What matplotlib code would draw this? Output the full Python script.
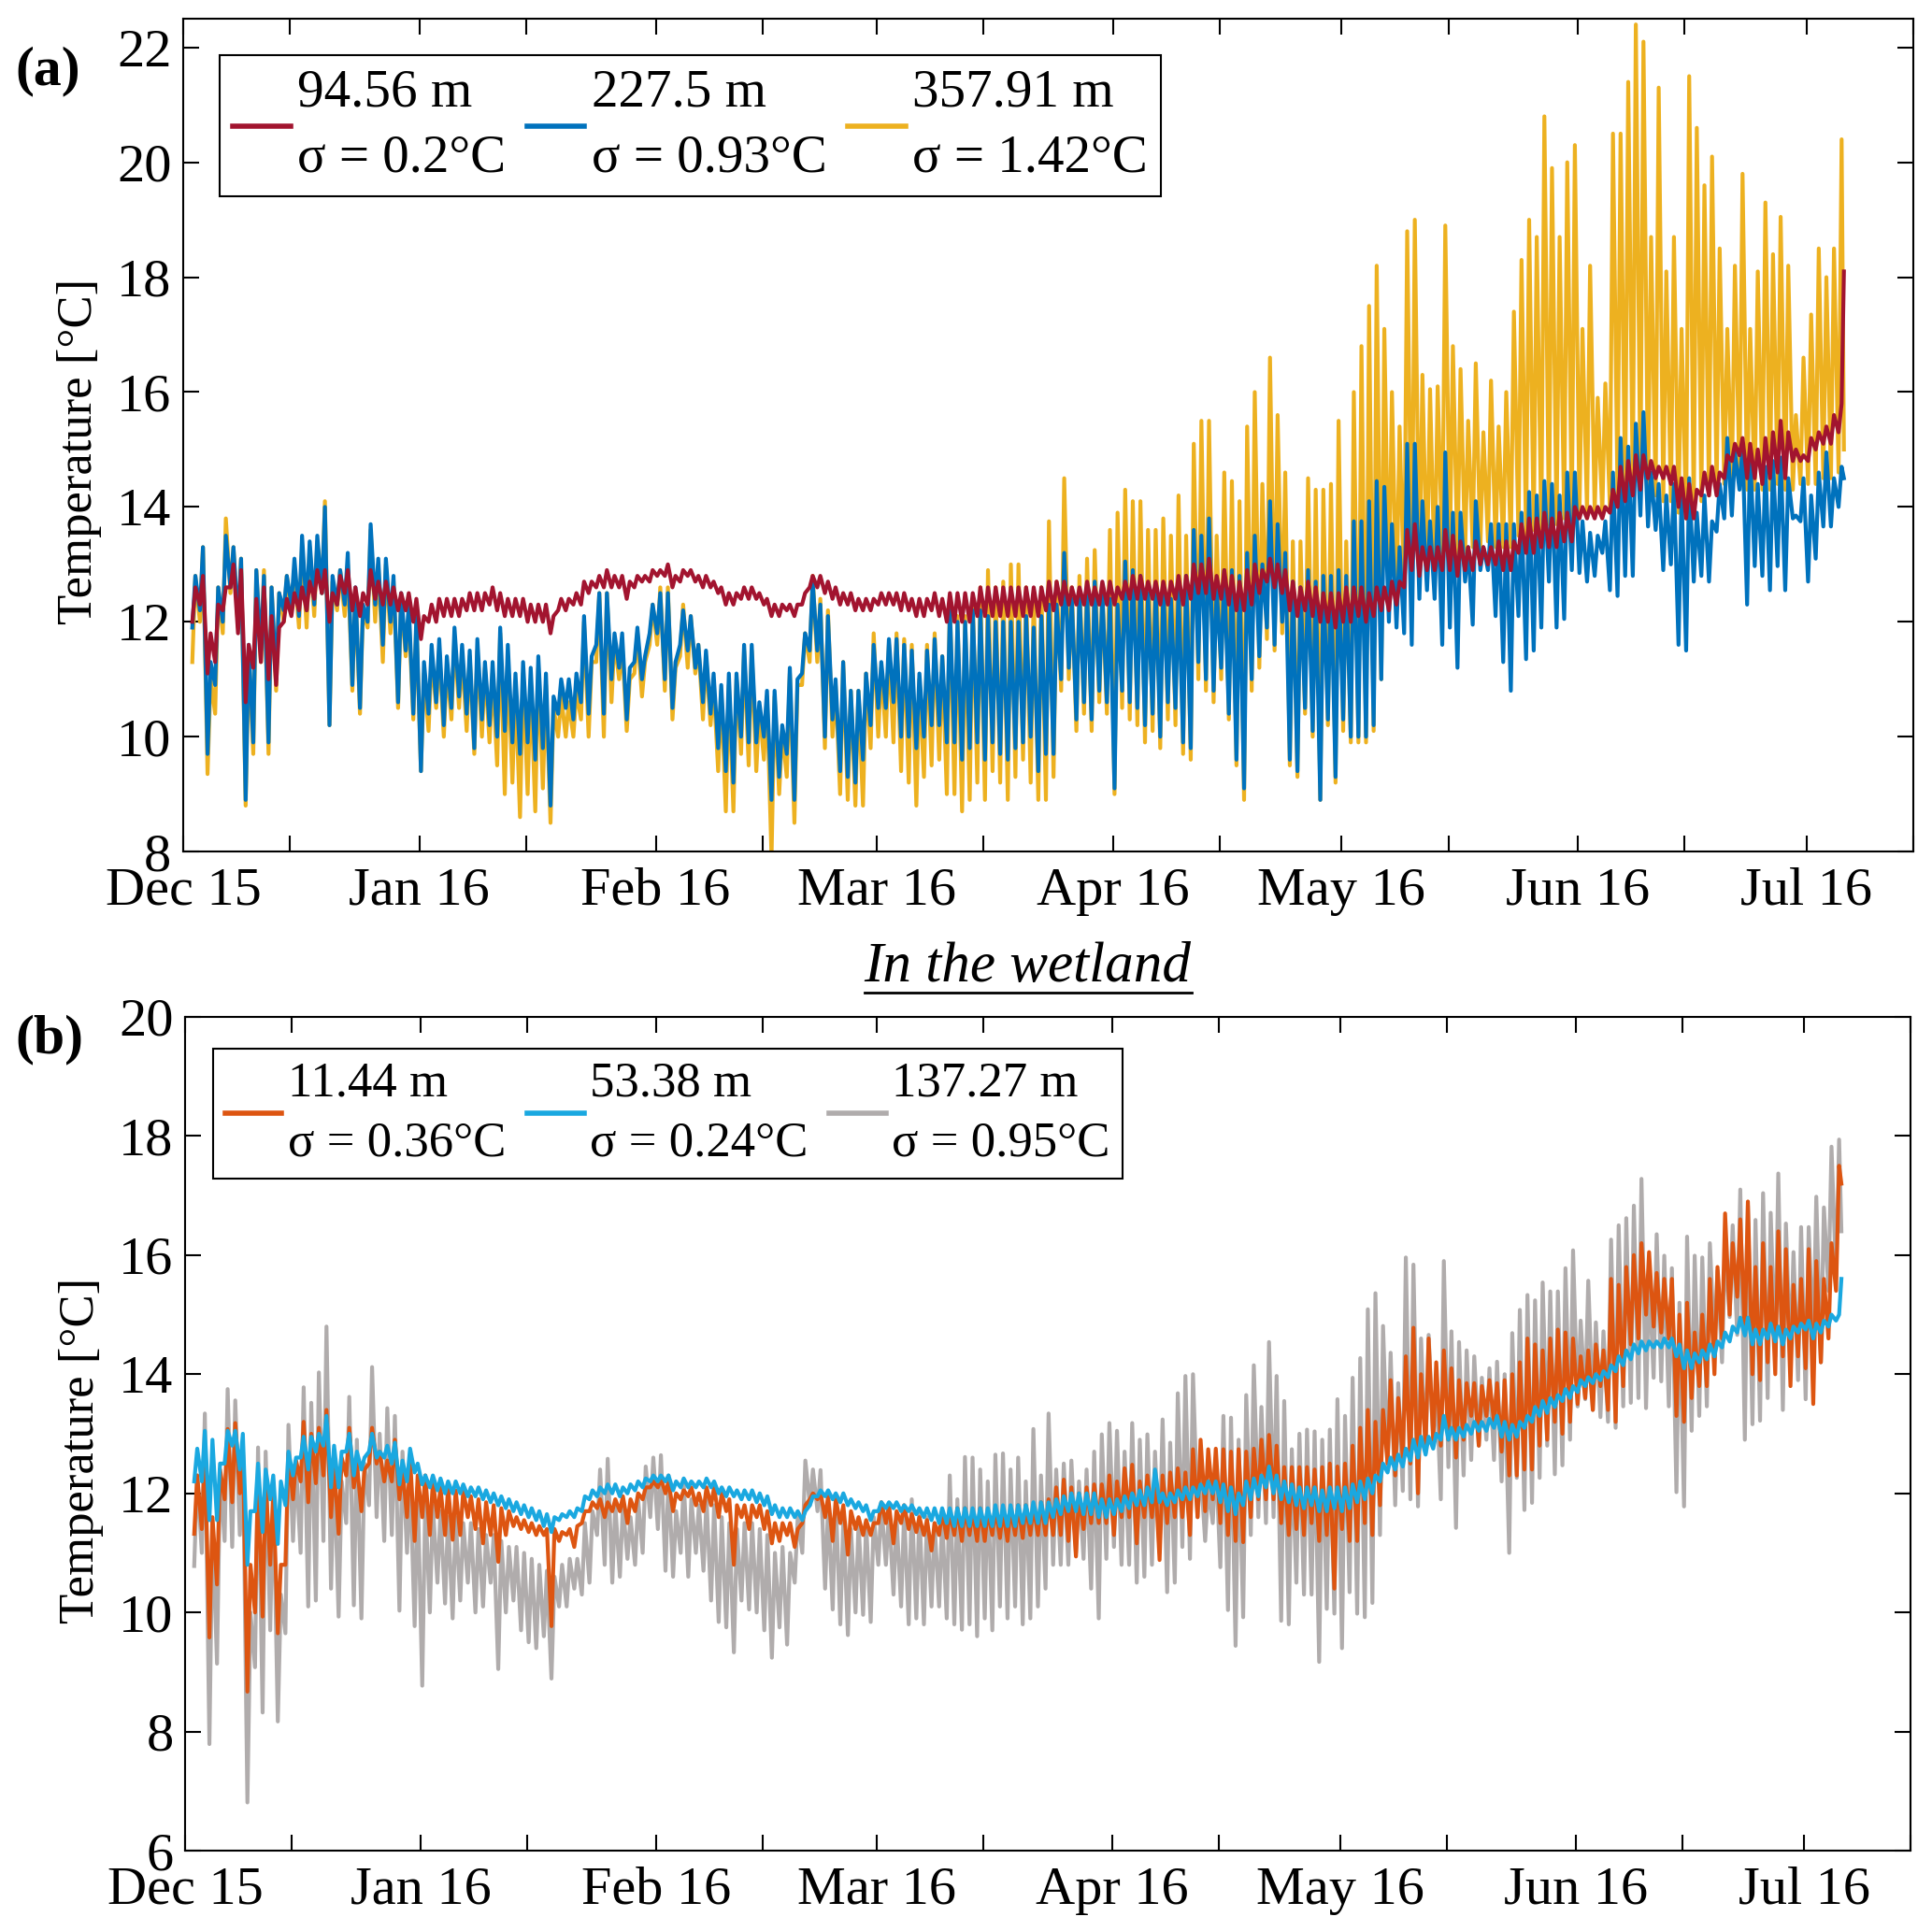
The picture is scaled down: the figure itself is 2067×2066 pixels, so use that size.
import datetime as dt
import numpy as np
import matplotlib
matplotlib.use("Agg")
import matplotlib.pyplot as plt
import matplotlib.dates as mdates
from matplotlib.ticker import FuncFormatter
from matplotlib.lines import Line2D

plt.rcParams['font.family'] = ['Liberation Serif', 'DejaVu Serif']

# ---------------- data: daily low / high, Dec 2 2015 .. Jul 5 2016 ----------------
# Panel (a) -- 94.56 m (red)
r94_lo = [12.0, 12.3, 11.1, 11.3, 12.2, 12.6, 11.8, 10.6, 11.2, 11.3, 11.0, 10.9, 12.0, 12.1, 12.2, 12.2, 12.4, 12.5, 12.0, 12.3, 12.5, 12.2, 12.1, 12.3, 12.4, 12.3, 12.3, 12.2, 12.2, 12.0,
          11.7, 12.0, 12.0, 12.1, 12.1, 12.1, 12.2, 12.2, 12.2, 12.3, 12.2, 12.1, 12.1, 12.1, 12.0, 12.0, 12.0, 11.8, 12.2, 12.2, 12.3, 12.3, 12.5, 12.6, 12.6, 12.6, 12.6, 12.4, 12.6, 12.7, 12.7,
          12.8, 12.8, 12.6, 12.7, 12.8, 12.7, 12.6, 12.6, 12.5, 12.3, 12.3, 12.4, 12.4, 12.4, 12.3, 12.1, 12.1, 12.2, 12.1, 12.3, 12.6, 12.6, 12.5, 12.4, 12.3, 12.3, 12.2, 12.2, 12.2,
          12.3, 12.3, 12.3, 12.2, 12.2, 12.1, 12.1, 12.2, 12.1, 12.0, 12.0, 12.0, 12.0, 12.1, 12.1, 12.1, 12.1, 12.1, 12.1, 12.1, 12.1, 12.1, 12.2, 12.2, 12.3, 12.3, 12.3, 12.3, 12.3, 12.3, 12.3,
          12.3, 12.4, 12.4, 12.4, 12.4, 12.4, 12.3, 12.3, 12.4, 12.3, 12.4, 12.5, 12.5, 12.4, 12.4, 12.3, 12.2, 12.2, 12.3, 12.5, 12.7, 12.6, 12.5, 12.2, 12.1, 12.2, 12.1, 12.0, 12.0, 11.9,
          12.0, 12.0, 12.1, 12.0, 12.1, 12.2, 12.2, 12.3, 12.6, 12.9, 12.8, 12.9, 12.9, 12.9, 12.9, 12.8, 12.9, 12.9, 13.0, 13.0, 13.0, 12.9, 12.9, 13.2, 13.2, 13.2, 13.3, 13.3, 13.3, 13.4, 13.4,
          13.8, 13.8, 13.8, 13.8, 13.9, 14.0, 14.1, 14.2, 14.3, 14.5, 14.5, 14.5, 14.4, 14.0, 13.8, 13.8, 14.2, 14.2, 14.2, 14.5, 14.8, 14.9, 14.5, 14.5, 14.4, 14.5, 14.6, 14.5, 14.8, 14.8,
          14.8, 15.0, 15.1, 15.1, 15.3]
r94_hi = [12.6, 12.8, 11.8, 12.3, 12.6, 13.0, 12.9, 11.6, 12.4, 12.6, 12.1, 11.9, 12.4, 12.5, 12.6, 12.7, 12.9, 12.9, 12.5, 12.8, 12.9, 12.6, 12.5, 12.9, 12.7, 12.7, 12.6, 12.5, 12.5, 12.4,
          12.1, 12.3, 12.4, 12.4, 12.4, 12.4, 12.5, 12.5, 12.5, 12.6, 12.5, 12.4, 12.4, 12.4, 12.3, 12.3, 12.3, 12.1, 12.4, 12.4, 12.5, 12.7, 12.7, 12.8, 12.9, 12.8, 12.8, 12.7, 12.8, 12.8, 12.9,
          12.9, 13.0, 12.8, 12.9, 12.9, 12.8, 12.8, 12.7, 12.6, 12.5, 12.5, 12.6, 12.6, 12.5, 12.4, 12.3, 12.3, 12.3, 12.3, 12.5, 12.8, 12.8, 12.7, 12.6, 12.5, 12.5, 12.4, 12.4, 12.4,
          12.5, 12.5, 12.5, 12.5, 12.4, 12.4, 12.4, 12.5, 12.4, 12.5, 12.5, 12.5, 12.5, 12.6, 12.6, 12.6, 12.6, 12.6, 12.6, 12.6, 12.6, 12.6, 12.7, 12.7, 12.7, 12.6, 12.6, 12.7, 12.6, 12.7, 12.7,
          12.6, 12.7, 12.8, 12.8, 12.7, 12.7, 12.7, 12.7, 12.8, 12.8, 13.0, 13.0, 13.1, 12.8, 12.9, 12.8, 12.7, 12.9, 13.0, 12.9, 13.1, 13.0, 12.9, 12.7, 12.6, 12.7, 12.6, 12.5, 12.5, 12.5,
          12.6, 12.6, 12.6, 12.5, 12.6, 12.6, 12.7, 12.7, 13.6, 13.7, 13.3, 13.3, 13.3, 13.6, 13.5, 13.4, 13.3, 13.4, 13.3, 13.3, 13.4, 13.4, 13.4, 13.7, 13.8, 13.8, 13.9, 13.8, 13.9, 13.9, 14.0,
          14.0, 14.0, 14.0, 14.0, 14.3, 14.7, 14.8, 14.9, 14.9, 14.8, 14.7, 14.7, 14.7, 14.5, 14.4, 14.3, 14.6, 14.7, 14.6, 14.9, 15.1, 15.2, 15.1, 15.0, 15.2, 15.3, 15.5, 15.3, 15.0, 14.9,
          15.2, 15.3, 15.4, 15.6, 15.8]
# Panel (a) -- 227.5 m (blue)
b227_lo = [11.9, 12.2, 9.7, 10.9, 12.0, 12.6, 12.0, 8.9, 9.9, 11.5, 9.9, 11.0, 12.2, 12.3, 12.1, 12.2, 12.3, 12.5, 10.2, 12.3, 12.3, 10.9, 10.5, 12.0, 12.3, 11.6, 12.0, 10.6, 11.5, 10.4,
           9.4, 10.4, 10.6, 10.2, 10.5, 10.7, 10.4, 9.8, 10.3, 10.2, 10.0, 10.1, 9.9, 9.7, 9.9, 9.6, 9.8, 8.8, 10.4, 10.5, 10.3, 10.6, 10.4, 11.6, 10.4, 11.0, 11.2, 10.3, 11.3, 11.0, 11.8,
           11.8, 11.0, 10.5, 11.6, 11.5, 11.2, 10.6, 10.4, 9.8, 9.4, 9.2, 10.0, 9.9, 9.9, 10.0, 8.9, 9.3, 9.7, 8.9, 11.1, 11.5, 11.5, 10.0, 10.3, 9.4, 9.3, 9.2, 9.6, 10.2,
           10.5, 10.5, 10.6, 10.0, 10.0, 9.8, 10.0, 10.2, 10.2, 9.9, 9.9, 9.6, 9.8, 9.9, 9.6, 9.9, 9.7, 9.6, 9.8, 9.9, 10.0, 9.4, 9.7, 9.7, 11.0, 11.2, 10.3, 10.6, 10.3, 10.8, 10.6,
           9.1, 10.8, 10.6, 10.5, 10.2, 10.4, 10.0, 10.6, 10.5, 9.9, 9.8, 11.3, 11.0, 10.8, 11.2, 10.4, 9.6, 9.1, 11.0, 11.4, 11.9, 11.6, 12.0, 9.6, 9.4, 10.5, 10.1, 8.9, 10.3, 9.3,
           10.3, 10.0, 10.0, 10.0, 10.2, 11.0, 12.0, 11.9, 11.8, 11.6, 12.4, 12.55, 12.4, 11.6, 11.9, 11.2, 12.7, 11.95, 12.9, 12.9, 12.1, 11.3, 10.8, 12.1, 11.35, 11.5, 11.9, 12.7, 11.9, 12.05, 12.9,
           12.85, 12.7, 12.8, 13.2, 12.55, 12.45, 12.8, 12.8, 13.85, 13.66, 13.6, 12.9, 13.0, 11.6, 11.5, 12.7, 12.8, 12.7, 13.57, 13.8, 13.85, 14.3, 12.3, 12.97, 12.8, 12.55, 12.97, 12.55, 13.8, 13.75,
           12.7, 13.1, 13.66, 13.66, 14.0]
b227_hi = [12.8, 13.3, 11.3, 12.6, 13.5, 13.3, 13.1, 11.6, 12.9, 12.8, 12.6, 12.5, 12.8, 13.1, 13.5, 13.4, 13.5, 14.0, 12.8, 12.9, 13.2, 12.6, 12.3, 13.7, 13.1, 13.1, 12.8, 12.5, 12.3, 12.1,
           11.3, 11.6, 11.7, 11.4, 11.9, 11.6, 11.5, 11.7, 11.3, 11.3, 11.9, 11.6, 11.1, 11.3, 11.2, 11.4, 11.1, 10.7, 11.0, 11.0, 11.1, 12.1, 11.4, 12.5, 12.5, 11.8, 11.8, 11.2, 11.9, 11.4, 12.3,
           12.5, 12.5, 11.3, 12.2, 12.1, 11.6, 11.5, 11.1, 10.9, 11.1, 11.1, 11.6, 11.6, 10.6, 10.8, 10.8, 10.2, 11.2, 11.0, 11.8, 12.7, 12.3, 12.1, 11.0, 11.3, 10.8, 10.8, 11.1, 11.6,
           11.3, 11.7, 11.7, 11.6, 11.5, 11.1, 11.5, 11.7, 11.4, 12.2, 12.0, 12.0, 12.2, 12.2, 12.1, 12.0, 12.0, 12.0, 12.0, 12.1, 11.9, 12.1, 12.3, 12.3, 13.2, 12.4, 12.5, 12.5, 12.7, 12.5, 12.4,
           12.3, 13.05, 12.9, 12.8, 12.5, 12.6, 12.6, 12.4, 12.6, 12.8, 13.6, 13.5, 13.8, 12.6, 12.9, 12.9, 12.8, 13.2, 13.5, 13.0, 14.1, 13.7, 13.2, 12.7, 12.6, 12.9, 12.7, 12.8, 12.8, 12.9,
           12.8, 13.75, 13.75, 14.1, 14.45, 14.35, 13.7, 13.3, 15.1, 15.1, 14.1, 13.75, 14.0, 14.95, 13.9, 13.9, 13.3, 14.1, 13.3, 13.7, 13.7, 13.7, 13.7, 13.9, 14.26, 14.2, 14.45, 14.4, 14.2, 14.6, 14.6,
           13.75, 13.55, 13.5, 13.75, 14.6, 15.2, 15.05, 15.45, 15.65, 14.6, 14.4, 14.2, 14.4, 14.2, 14.5, 13.9, 14.2, 13.75, 14.4, 15.2, 14.95, 15.05, 14.95, 14.4, 14.7, 14.8, 14.86, 14.5, 13.85, 14.5,
           14.2, 14.6, 14.95, 14.5, 14.7]
# Panel (a) -- 357.91 m (yellow)
y357_lo = [11.3, 12.0, 9.35, 10.4, 11.8, 12.5, 11.9, 8.8, 9.7, 11.3, 9.7, 10.8, 12.0, 12.2, 11.9, 11.9, 12.1, 12.5, 10.2, 12.2, 12.1, 10.8, 10.4, 11.9, 12.0, 11.3, 11.8, 10.5, 11.4, 10.3,
           9.4, 10.1, 10.5, 10.0, 10.3, 10.5, 10.1, 9.7, 10.0, 9.9, 9.5, 9.0, 9.2, 8.6, 9.0, 8.7, 9.1, 8.5, 10.0, 10.0, 10.0, 10.3, 10.0, 11.3, 10.0, 10.6, 11.0, 10.1, 11.1, 10.7, 11.6,
           11.6, 10.8, 10.3, 11.4, 11.2, 11.1, 10.3, 10.2, 9.4, 8.7, 8.7, 9.7, 9.5, 9.4, 9.6, 7.9, 9.0, 9.3, 8.5, 10.9, 11.3, 11.3, 9.8, 10.0, 9.0, 8.9, 8.8, 8.8, 9.8,
           10.0, 10.0, 9.9, 9.4, 9.2, 8.8, 9.3, 9.5, 9.6, 9.0, 9.0, 8.7, 8.9, 9.2, 8.9, 9.4, 9.2, 8.9, 9.3, 9.6, 9.2, 8.9, 8.9, 9.3, 10.8, 11.0, 10.1, 10.4, 10.1, 10.6, 10.4,
           9.0, 10.5, 10.3, 10.2, 9.9, 10.1, 9.8, 10.3, 10.2, 9.7, 9.6, 11.0, 10.8, 10.6, 11.0, 10.3, 9.5, 8.9, 10.8, 11.2, 11.7, 11.5, 11.8, 9.5, 9.3, 10.4, 10.0, 8.9, 10.2, 9.2,
           10.1, 9.9, 9.9, 9.9, 10.1, 11.0, 12.3, 12.3, 12.5, 12.6, 12.7, 12.8, 12.8, 13.2, 13.2, 13.1, 13.2, 13.3, 13.3, 13.4, 13.3, 13.3, 13.3, 13.5, 13.5, 13.6, 13.6, 13.7, 13.7, 13.8, 13.8,
           13.9, 13.9, 13.9, 13.9, 14.0, 14.2, 14.2, 14.3, 14.3, 14.2, 14.2, 14.1, 14.1, 13.9, 13.8, 13.9, 14.1, 14.2, 14.3, 14.4, 14.4, 14.5, 14.3, 14.3, 14.3, 14.3, 14.4, 14.3, 14.3, 14.4,
           14.4, 14.4, 14.5, 14.5, 14.6]
y357_hi = [12.8, 13.3, 11.0, 12.6, 13.8, 13.3, 13.1, 11.5, 12.9, 12.9, 12.6, 12.5, 12.8, 12.9, 13.3, 13.3, 13.4, 14.1, 12.7, 12.9, 13.0, 12.5, 12.2, 13.6, 13.0, 13.0, 12.7, 12.4, 12.1, 12.0,
           11.1, 11.4, 11.5, 11.2, 11.7, 11.4, 11.4, 11.5, 11.2, 11.1, 11.8, 11.4, 10.9, 11.1, 11.0, 11.2, 10.9, 10.5, 10.7, 10.6, 10.8, 12.0, 11.3, 12.5, 12.5, 11.7, 11.6, 11.0, 11.8, 11.3, 12.3,
           12.6, 12.6, 11.2, 12.3, 12.1, 11.6, 11.4, 10.9, 10.8, 10.9, 11.0, 11.5, 11.5, 10.5, 10.7, 10.7, 10.1, 11.1, 10.9, 11.8, 12.8, 12.4, 12.2, 10.9, 11.3, 10.8, 10.8, 11.1, 11.8,
           11.2, 11.6, 11.8, 11.7, 11.6, 11.0, 11.6, 11.8, 11.4, 12.4, 12.1, 12.1, 12.4, 12.6, 12.9, 12.6, 12.7, 13.0, 13.0, 12.6, 12.5, 12.6, 13.75, 12.7, 14.5, 12.6, 12.8, 13.1, 13.25, 12.6, 13.6,
           13.9, 14.3, 14.1, 14.1, 13.6, 13.6, 13.8, 13.5, 14.2, 13.5, 15.1, 15.5, 15.5, 13.5, 14.6, 14.45, 14.1, 15.4, 16.0, 14.4, 16.6, 15.6, 14.6, 13.4, 13.4, 14.5, 14.3, 14.3, 14.4, 15.5,
           13.4, 16.0, 16.8, 17.5, 18.2, 17.1, 16.0, 15.4, 18.8, 19.0, 16.3, 16.05, 16.1, 18.9, 16.8, 16.4, 15.5, 16.5, 15.3, 16.2, 15.4, 16.0, 17.4, 18.3, 19.0, 18.7, 20.8, 19.9, 18.7, 20.0, 20.3,
           17.1, 18.2, 15.9, 16.15, 20.5, 20.5, 21.4, 22.4, 22.1, 18.7, 21.3, 18.1, 18.7, 17.1, 21.5, 20.6, 19.6, 20.1, 18.5, 17.1, 18.2, 19.8, 17.1, 18.1, 19.3, 18.4, 19.05, 18.2, 15.6, 16.6,
           17.35, 18.5, 18.0, 18.5, 20.4]
# last reading of each series (Jul 5)
end_a = {'r94': 18.1, 'b227': 14.5, 'y357': 15.0}

# Panel (b) -- 11.44 m (orange)
o11_lo = [11.32, 11.4, 9.58, 10.47, 11.9, 11.85, 12.0, 8.67, 10.0, 9.93, 10.8, 9.65, 10.8, 11.9, 12.2, 11.85, 12.17, 12.3, 11.6, 11.32, 12.3, 12.1, 11.7, 12.5, 12.5, 12.2, 12.2, 11.9, 11.6, 11.2,
          11.6, 11.3, 11.6, 11.3, 11.22, 11.3, 11.6, 11.4, 11.16, 11.3, 10.85, 11.3, 11.45, 11.4, 11.35, 11.3, 11.3, 9.77, 11.2, 11.3, 11.1, 11.5, 11.7, 11.75, 11.6, 11.7, 11.7, 11.5, 11.7, 11.9, 12.1,
          12.1, 12.0, 11.7, 11.9, 11.95, 11.8, 11.7, 11.8, 11.6, 11.7, 10.8, 11.6, 11.4, 11.6, 11.4, 11.16, 11.2, 11.3, 11.1, 11.5, 11.9, 11.9, 11.6, 11.2, 11.5, 10.97, 11.4, 11.3, 11.3,
          11.5, 11.5, 11.16, 11.5, 11.4, 11.35, 11.3, 11.04, 11.3, 11.25, 11.3, 11.2, 11.3, 11.2, 11.2, 11.3, 11.25, 11.2, 11.3, 11.25, 11.3, 11.3, 11.3, 11.3, 11.3, 11.2, 10.94, 11.4, 11.5, 11.5, 11.5,
          11.3, 11.6, 11.6, 11.16, 11.6, 11.6, 10.88, 11.5, 11.6, 11.6, 11.3, 11.6, 11.7, 11.9, 11.5, 11.3, 11.2, 11.18, 11.6, 11.9, 11.9, 11.9, 11.5, 11.3, 11.4, 11.3, 11.5, 11.2, 11.3, 10.4,
          11.4, 11.2, 11.2, 11.5, 11.3, 11.8, 12.5, 12.3, 12.6, 12.5, 12.0, 12.8, 12.9, 12.8, 12.9, 12.6, 12.9, 13.3, 12.8, 13.3, 13.2, 12.7, 12.3, 12.3, 12.4, 12.4, 12.8, 12.9, 13.2, 13.0, 13.2,
          13.5, 13.6, 13.4, 13.8, 13.4, 13.2, 13.8, 14.5, 14.6, 15.0, 14.8, 14.7, 14.6, 13.3, 13.2, 13.6, 13.8, 13.8, 14.0, 14.6, 15.0, 15.3, 14.7, 14.0, 13.9, 14.2, 14.0, 14.3, 13.8, 14.3,
          14.1, 13.5, 14.2, 14.6, 15.4]
o11_hi = [12.3, 12.67, 11.6, 12.4, 13.08, 13.18, 12.8, 10.8, 12.3, 12.2, 12.0, 10.8, 12.67, 12.55, 13.2, 13.0, 13.1, 13.4, 12.5, 12.6, 13.1, 12.5, 12.4, 13.1, 12.7, 12.55, 12.9, 12.4, 12.6, 12.3,
          12.3, 12.2, 12.1, 12.1, 12.05, 12.05, 11.95, 11.9, 11.85, 11.8, 11.75, 11.7, 11.6, 11.55, 11.5, 11.45, 11.4, 11.4, 11.35, 11.4, 11.45, 11.7, 11.85, 11.9, 11.85, 11.9, 11.95, 11.9, 12.0, 12.1, 12.2,
          12.25, 12.2, 12.0, 12.05, 12.1, 12.0, 12.1, 12.1, 12.0, 11.9, 11.8, 11.8, 11.8, 11.8, 11.7, 11.5, 11.5, 11.5, 11.4, 11.8, 12.0, 12.0, 11.95, 11.9, 11.8, 11.7, 11.6, 11.55, 11.5,
          11.85, 11.8, 11.7, 11.8, 11.65, 11.6, 11.55, 11.5, 11.7, 11.7, 11.75, 11.75, 11.7, 11.75, 11.7, 11.75, 11.7, 11.75, 11.8, 11.8, 11.8, 11.85, 11.9, 12.1, 12.23, 12.1, 12.0, 12.1, 12.15, 12.15, 12.3,
          12.2, 12.42, 12.48, 12.2, 12.3, 12.35, 12.3, 12.35, 12.42, 12.35, 12.74, 12.9, 12.74, 12.75, 12.74, 12.7, 12.74, 12.7, 12.75, 12.9, 12.98, 12.8, 12.44, 12.44, 12.44, 12.44, 12.4, 12.44, 12.5, 12.45,
          12.5, 12.8, 13.1, 13.4, 13.2, 13.4, 13.9, 13.6, 14.3, 14.78, 14.0, 14.6, 14.2, 14.4, 14.1, 13.9, 13.85, 13.85, 13.8, 13.9, 13.85, 13.9, 14.0, 14.2, 14.6, 14.5, 14.4, 14.6, 14.75, 14.7, 14.6,
          14.3, 14.4, 14.5, 14.4, 15.6, 15.5, 15.8, 16.0, 16.2, 16.05, 15.7, 15.6, 15.6, 15.0, 15.2, 14.7, 15.0, 15.6, 15.8, 16.7, 16.2, 16.6, 16.9, 15.8, 16.2, 15.8, 16.4, 16.1, 15.5, 15.6,
          16.1, 15.9, 15.6, 16.2, 17.5]
# Panel (b) -- 53.38 m (light blue)
c53_lo = [12.2, 12.2, 11.55, 11.55, 12.5, 12.8, 12.4, 10.8, 11.7, 11.35, 11.9, 11.15, 11.8, 12.3, 12.6, 12.4, 12.7, 12.8, 12.1, 12.1, 12.7, 12.3, 12.4, 12.7, 12.6, 12.6, 12.5, 12.15, 12.2, 12.35,
          12.15, 12.1, 12.05, 12.0, 12.0, 12.0, 11.95, 11.95, 11.9, 11.85, 11.8, 11.75, 11.7, 11.65, 11.6, 11.55, 11.45, 11.35, 11.55, 11.6, 11.6, 11.7, 11.9, 11.95, 12.0, 12.0, 11.95, 12.0, 12.05, 12.1, 12.2,
          12.2, 12.2, 12.05, 12.1, 12.1, 12.1, 12.1, 12.1, 12.0, 11.95, 11.95, 11.9, 11.9, 11.85, 11.8, 11.65, 11.6, 11.6, 11.6, 11.55, 11.8, 11.95, 11.95, 11.9, 11.85, 11.8, 11.75, 11.7, 11.55,
          11.7, 11.75, 11.75, 11.7, 11.7, 11.65, 11.6, 11.55, 11.5, 11.5, 11.45, 11.45, 11.45, 11.45, 11.45, 11.45, 11.45, 11.45, 11.45, 11.5, 11.5, 11.5, 11.5, 11.6, 11.65, 11.7, 11.7, 11.65, 11.65, 11.6, 11.6,
          11.65, 11.7, 11.75, 11.8, 11.8, 11.85, 11.85, 11.8, 11.85, 11.9, 11.9, 11.95, 12.0, 12.0, 11.85, 11.7, 11.65, 11.8, 11.9, 11.95, 12.1, 12.0, 11.9, 11.85, 11.8, 11.75, 11.8, 11.7, 11.7, 11.75,
          11.7, 11.75, 11.85, 11.9, 12.0, 12.2, 12.35, 12.4, 12.45, 12.55, 12.6, 12.65, 12.75, 12.9, 12.9, 12.9, 12.95, 13.0, 13.05, 13.05, 13.1, 12.95, 12.9, 12.95, 13.1, 13.2, 13.3, 13.35, 13.45, 13.55, 13.6,
          13.7, 13.8, 13.85, 13.9, 13.95, 14.05, 14.15, 14.25, 14.35, 14.4, 14.45, 14.45, 14.45, 14.3, 14.1, 14.1, 14.2, 14.25, 14.3, 14.45, 14.55, 14.7, 14.65, 14.5, 14.5, 14.6, 14.55, 14.5, 14.6, 14.7,
          14.75, 14.6, 14.7, 14.8, 14.9]
c53_hi = [12.75, 13.05, 12.9, 12.5, 13.05, 13.05, 13.0, 11.7, 12.5, 12.4, 12.3, 12.2, 12.7, 12.6, 12.95, 12.95, 13.0, 13.3, 12.8, 12.7, 13.0, 12.7, 12.6, 13.0, 12.7, 12.8, 12.85, 12.55, 12.75, 12.5,
          12.3, 12.3, 12.25, 12.2, 12.2, 12.15, 12.1, 12.1, 12.05, 12.0, 11.95, 11.9, 11.85, 11.8, 11.75, 11.7, 11.65, 11.6, 11.65, 11.7, 11.75, 11.95, 12.05, 12.1, 12.15, 12.15, 12.1, 12.15, 12.2, 12.25, 12.3,
          12.3, 12.3, 12.2, 12.25, 12.2, 12.2, 12.25, 12.2, 12.1, 12.1, 12.05, 12.05, 12.05, 12.0, 11.95, 11.8, 11.75, 11.75, 11.7, 11.7, 11.95, 12.05, 12.05, 12.0, 12.0, 11.9, 11.85, 11.8, 11.7,
          11.85, 11.85, 11.85, 11.8, 11.8, 11.75, 11.75, 11.75, 11.75, 11.75, 11.75, 11.75, 11.75, 11.75, 11.75, 11.8, 11.8, 11.8, 11.8, 11.8, 11.85, 11.85, 11.85, 11.9, 11.95, 12.0, 12.0, 12.0, 12.0, 11.9, 11.9,
          11.9, 11.95, 12.0, 12.05, 12.1, 12.4, 12.0, 12.0, 12.05, 12.1, 12.1, 12.15, 12.2, 12.2, 12.15, 12.1, 12.0, 12.2, 12.25, 12.3, 12.45, 12.3, 12.2, 12.15, 12.1, 12.1, 12.1, 12.05, 12.1, 12.1,
          12.1, 12.15, 12.2, 12.25, 12.3, 12.5, 12.6, 12.65, 12.75, 12.9, 12.95, 12.95, 13.0, 13.3, 13.1, 13.1, 13.15, 13.2, 13.2, 13.25, 13.3, 13.2, 13.15, 13.2, 13.3, 13.45, 13.55, 13.6, 13.65, 13.75, 13.8,
          13.9, 13.95, 14.0, 14.05, 14.15, 14.3, 14.4, 14.5, 14.55, 14.55, 14.55, 14.6, 14.6, 14.5, 14.4, 14.35, 14.4, 14.5, 14.55, 14.7, 14.8, 14.95, 14.95, 14.75, 14.75, 14.85, 14.8, 14.75, 14.8, 14.85,
          14.9, 14.85, 14.9, 15.0, 15.0]
# Panel (b) -- 137.27 m (grey)
g137_lo = [10.78, 11.0, 7.79, 9.14, 11.2, 11.1, 11.3, 6.81, 9.08, 8.32, 9.7, 8.17, 9.65, 11.2, 11.0, 10.1, 10.2, 11.2, 10.4, 9.93, 11.5, 10.12, 9.9, 11.8, 11.6, 11.2, 11.3, 10.03, 11.0, 9.77,
           8.77, 10.0, 10.5, 10.15, 9.9, 10.2, 10.5, 10.0, 10.1, 10.5, 9.05, 10.0, 10.2, 9.7, 9.5, 9.4, 9.6, 8.89, 10.1, 10.1, 10.4, 10.3, 10.5, 11.3, 10.8, 10.5, 10.6, 10.9, 10.8, 11.0, 11.6,
           11.4, 10.7, 10.6, 11.0, 10.6, 11.0, 10.7, 10.2, 9.84, 9.75, 9.33, 10.2, 10.05, 10.0, 9.7, 9.24, 9.75, 9.46, 10.5, 11.0, 11.8, 11.7, 10.4, 10.05, 9.8, 9.62, 10.0, 9.96, 9.84,
           10.8, 10.8, 10.3, 10.1, 9.8, 9.9, 9.8, 10.1, 10.1, 9.9, 9.8, 9.71, 9.8, 9.6, 9.9, 9.7, 10.1, 9.9, 10.1, 9.8, 9.9, 10.1, 10.4, 10.8, 10.8, 10.8, 11.0, 10.9, 10.4, 9.9, 10.9,
           11.1, 10.8, 10.8, 10.5, 10.6, 10.8, 11.0, 10.34, 10.5, 11.1, 10.9, 11.6, 11.2, 11.5, 10.76, 10.04, 9.44, 9.92, 11.3, 11.6, 11.5, 11.6, 9.86, 9.8, 10.5, 10.3, 10.3, 9.17, 10.06, 9.98,
           9.4, 10.34, 9.98, 9.92, 10.16, 11.3, 12.44, 11.8, 12.04, 11.9, 11.78, 12.67, 12.86, 11.9, 12.44, 11.42, 12.3, 12.56, 12.8, 12.9, 12.56, 12.2, 11.0, 12.26, 11.72, 11.84, 12.26, 12.8, 12.32, 12.47, 12.9,
           13.46, 13.58, 13.4, 13.28, 13.2, 13.1, 13.46, 13.52, 13.6, 13.43, 13.94, 13.88, 13.46, 12.02, 11.78, 13.05, 13.3, 13.46, 14.48, 14.2, 14.96, 14.66, 12.9, 13.16, 13.22, 13.6, 14.3, 13.4, 14.3, 13.9,
           13.58, 14.48, 14.2, 15.4, 15.6]
g137_hi = [12.3, 13.34, 11.5, 12.3, 13.75, 13.56, 12.8, 10.0, 12.77, 12.7, 12.2, 10.3, 13.15, 12.5, 13.78, 13.52, 14.03, 14.8, 12.5, 12.2, 13.62, 12.9, 12.5, 14.12, 13.0, 13.43, 13.3, 12.7, 12.3, 12.1,
           11.9, 11.8, 11.7, 11.6, 11.6, 11.5, 11.5, 11.4, 11.3, 11.3, 11.2, 11.1, 11.1, 11.0, 10.9, 10.8, 10.7, 10.6, 10.8, 10.9, 10.9, 11.5, 11.7, 12.4, 12.58, 11.8, 11.8, 11.6, 11.9, 12.45, 12.6,
           12.64, 12.3, 11.7, 12.2, 11.9, 11.8, 11.9, 11.8, 11.6, 11.5, 11.4, 11.5, 11.5, 11.4, 11.3, 11.0, 11.1, 11.0, 11.6, 12.55, 12.4, 12.39, 11.8, 11.9, 11.6, 11.4, 11.5, 11.5, 11.6,
           11.8, 11.7, 11.6, 11.7, 11.9, 11.7, 11.6, 11.5, 11.6, 12.3, 11.9, 12.61, 12.6, 12.4, 12.2, 12.65, 12.67, 12.4, 12.6, 12.2, 13.08, 12.3, 13.34, 12.4, 12.5, 12.55, 12.2, 12.4, 12.7, 12.99, 13.18,
           13.05, 12.7, 13.18, 12.9, 12.99, 12.7, 13.24, 12.85, 13.68, 13.97, 14.0, 12.4, 12.1, 12.6, 13.3, 13.27, 12.9, 13.65, 14.15, 13.45, 14.54, 13.97, 13.55, 12.74, 13.0, 13.07, 13.04, 12.9, 13.07, 13.58,
           13.3, 13.94, 14.27, 15.09, 15.36, 14.81, 14.36, 13.85, 15.96, 15.84, 14.6, 14.66, 13.88, 15.9, 14.72, 14.54, 14.4, 14.3, 13.94, 14.1, 14.21, 14.0, 14.69, 15.08, 15.33, 15.24, 15.54, 15.39, 15.39, 15.78, 16.08,
           14.9, 15.57, 14.87, 14.72, 16.26, 16.5, 16.62, 16.83, 17.28, 15.69, 16.35, 15.99, 15.78, 15.2, 16.31, 15.99, 15.96, 16.2, 15.74, 16.11, 16.5, 17.1, 16.83, 16.59, 17.04, 16.71, 17.37, 16.53, 16.05, 16.47,
           16.47, 16.98, 16.8, 17.82, 17.94]
end_b = {'o11': 17.2, 'c53': 15.6, 'g137': 16.4}

labels_a = ['94.56 m\nσ = 0.2°C', '227.5 m\nσ = 0.93°C', '357.91 m\nσ = 1.42°C']
labels_b = ['11.44 m\nσ = 0.36°C', '53.38 m\nσ = 0.24°C', '137.27 m\nσ = 0.95°C']

for name, arr in [('r94_lo', r94_lo), ('r94_hi', r94_hi), ('b227_lo', b227_lo), ('b227_hi', b227_hi),
                  ('y357_lo', y357_lo), ('y357_hi', y357_hi), ('o11_lo', o11_lo), ('o11_hi', o11_hi),
                  ('c53_lo', c53_lo), ('c53_hi', c53_hi), ('g137_lo', g137_lo), ('g137_hi', g137_hi)]:
    assert len(arr) == 217, (name, len(arr))

# ---------------- drawing ----------------
FS_TICK = 42
FS_LAB = 38
BASE = mdates.date2num(dt.datetime(2015, 12, 2))


def trace(lo, hi, last):
    n = len(lo)
    i = np.arange(n)
    x = np.empty(2 * n + 1)
    y = np.empty(2 * n + 1)
    x[0:2 * n:2] = BASE + i + 0.2
    x[1:2 * n:2] = BASE + i + 0.6
    y[0:2 * n:2] = lo
    y[1:2 * n:2] = hi
    x[-1] = BASE + n - 1 + 0.9
    y[-1] = last
    return x, y


def fmt_date(x, pos):
    d = mdates.num2date(x)
    return d.strftime('%b %y') if d.day == 1 else ''


def style_axes(ax, ylo, yhi, yticks):
    ax.set_xlim(mdates.date2num(dt.datetime(2015, 12, 1)), mdates.date2num(dt.datetime(2016, 7, 15)))
    ax.set_ylim(ylo, yhi)
    ax.set_yticks(yticks)
    ax.xaxis.set_major_locator(mdates.DayLocator(bymonthday=[1, 15]))
    ax.xaxis.set_major_formatter(FuncFormatter(fmt_date))
    ax.tick_params(direction='in', top=True, right=True, length=12, width=1.5,
                   labelsize=FS_TICK)
    ax.tick_params(axis='x', pad=12)
    ax.tick_params(axis='y', pad=9)
    for s in ax.spines.values():
        s.set_linewidth(1.5)
    ax.set_ylabel('Temperature [°C]', fontsize=FS_LAB)
    ax.yaxis.set_label_coords(-0.047, 0.48)


fig = plt.figure(figsize=(20.67, 20.66), dpi=100)
axa = fig.add_axes([0.0948, 0.5590, 0.8955, 0.4313])
axb = fig.add_axes([0.0958, 0.0416, 0.8931, 0.4318])

LW = 3.0
col_r, col_b, col_y = '#A2142F', '#0072BD', '#EDB120'
col_o, col_c, col_g = '#DD5511', '#1AA8E0', '#B0ACAC'

xr, yr = trace(r94_lo, r94_hi, end_a['r94'])
xb, yb = trace(b227_lo, b227_hi, end_a['b227'])
xy, yy = trace(y357_lo, y357_hi, end_a['y357'])
la_r, = axa.plot(xr, yr, color=col_r, lw=LW, zorder=4)
la_b, = axa.plot(xb, yb, color=col_b, lw=LW, zorder=3)
la_y, = axa.plot(xy, yy, color=col_y, lw=LW, zorder=2)
style_axes(axa, 8, 22.5, np.arange(8, 23, 2))

xo, yo = trace(o11_lo, o11_hi, end_b['o11'])
xc, yc = trace(c53_lo, c53_hi, end_b['c53'])
xg, yg = trace(g137_lo, g137_hi, end_b['g137'])
lb_o, = axb.plot(xo, yo, color=col_o, lw=LW, zorder=3)
lb_c, = axb.plot(xc, yc, color=col_c, lw=LW, zorder=4)
lb_g, = axb.plot(xg, yg, color=col_g, lw=LW, zorder=2)
style_axes(axb, 6, 20, np.arange(6, 21, 2))


def make_legend(ax, handles, labels, anchor, fs, hl, cs):
    hh = [Line2D([0], [0], color=h.get_color(), lw=4.0) for h in handles]
    leg = ax.legend(hh, labels, ncol=3, loc='upper left', bbox_to_anchor=anchor,
                    borderaxespad=0, fontsize=fs, frameon=True, fancybox=False,
                    edgecolor='black', framealpha=1, handlelength=hl,
                    handletextpad=0.13, columnspacing=cs, borderpad=0.25)
    for t in leg.get_texts():
        t.set_linespacing(1.45)
    leg.get_frame().set_linewidth(1.5)
    leg.set_zorder(10)
    return leg


make_legend(axa, [la_r, la_b, la_y], labels_a, (0.021, 0.956), 41, 1.08, 0.4)
make_legend(axb, [lb_o, lb_c, lb_g], labels_b, (0.016, 0.962), 38, 1.15, 0.42)

fig.text(0.008, 0.963, '(a)', fontsize=43, fontweight='bold', ha='left', va='center')
fig.text(0.008, 0.4618, '(b)', fontsize=43, fontweight='bold', ha='left', va='center')

title = fig.text(0.532, 0.499, 'In the wetland', fontsize=44, style='italic', ha='center', va='center')
fig.canvas.draw()
bb = title.get_window_extent()
W, H = fig.canvas.get_width_height()
yline = (bb.y0 + 0.02 * bb.height) / H
fig.add_artist(Line2D([bb.x0 / W, bb.x1 / W], [yline, yline], color='black', lw=2.0))

fig.savefig('out.png', dpi=100)
